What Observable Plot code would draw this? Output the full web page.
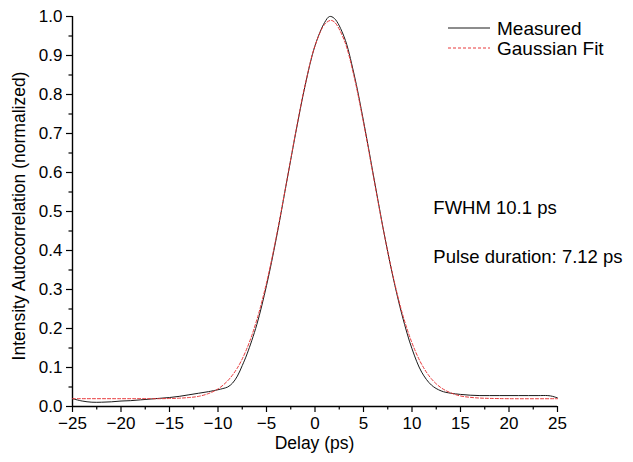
<!DOCTYPE html>
<html>
<head>
<meta charset="utf-8">
<script src="https://cdn.jsdelivr.net/npm/d3@7"></script>
<script src="https://cdn.jsdelivr.net/npm/@observablehq/plot@0.6"></script>
<style>
  html, body { margin: 0; padding: 0; background: #fff; }
  #chart svg { display: block; }
</style>
</head>
<body>
<div id="chart"></div>
<script>
// Delay (ps) and normalized intensity autocorrelation
const measuredX = [-25,-24,-23,-22,-21,-20,-19,-18,-17,-16,-15,-14,-13,-12,-11,-10,-9.5,-9,-8.5,-8,-7.5,-7,-6,-5,-4,-3,-2,-1,0,1,1.5,2,3,4,5,6,7,8,9,10,11,12,13,14,15,16,17,18,19,20,21,22,23,24,24.5,25];
const measuredY = [0.020,0.014,0.011,0.011,0.012,0.014,0.015,0.017,0.019,0.021,0.023,0.026,0.030,0.034,0.038,0.043,0.046,0.050,0.060,0.078,0.105,0.135,0.210,0.310,0.430,0.565,0.700,0.825,0.925,0.985,1.000,0.995,0.948,0.855,0.732,0.596,0.460,0.337,0.232,0.148,0.088,0.055,0.040,0.034,0.031,0.029,0.028,0.028,0.028,0.028,0.028,0.028,0.028,0.028,0.026,0.022];

const fitX = [-25,-20,-17,-16,-15,-14,-13,-12,-11,-10,-9,-8,-7,-6,-5,-4,-3,-2,-1,0,1,1.6,2,3,4,5,6,7,8,9,10,11,12,13,14,15,16,17,18,20,25];
const fitY = [0.020,0.020,0.020,0.020,0.0205,0.0213,0.023,0.026,0.033,0.045,0.066,0.099,0.150,0.222,0.317,0.434,0.566,0.702,0.827,0.925,0.980,0.990,0.986,0.940,0.849,0.728,0.593,0.459,0.339,0.239,0.163,0.108,0.071,0.048,0.035,0.027,0.0235,0.0216,0.0208,0.020,0.020];

const xMajor = [-25,-20,-15,-10,-5,0,5,10,15,20,25];
const xMinor = [-22.5,-17.5,-12.5,-7.5,-2.5,2.5,7.5,12.5,17.5,22.5];
const yMajor = [0,0.1,0.2,0.3,0.4,0.5,0.6,0.7,0.8,0.9,1.0];
const yMinor = [0.05,0.15,0.25,0.35,0.45,0.55,0.65,0.75,0.85,0.95];

const seriesNames = ["Measured", "Gaussian Fit"];
const annotations = [
  {x: 12.2, y: 0.508, text: "FWHM 10.1 ps"},
  {x: 12.2, y: 0.382, text: "Pulse duration: 7.12 ps"}
];

const measured = measuredX.map((x, i) => ({x, y: measuredY[i]}));
const fit = fitX.map((x, i) => ({x, y: fitY[i]}));

const FONT = "'Liberation Sans', Arial, Helvetica, sans-serif";
const RED = "#e8383a";

const chart = Plot.plot({
  width: 633,
  height: 462,
  marginLeft: 72,
  marginRight: 76,
  marginTop: 16,
  marginBottom: 56,
  style: {fontFamily: FONT, fontSize: "17px", background: "#fff", color: "#000"},
  x: {domain: [-25, 25]},
  y: {domain: [0, 1.0]},
  marks: [
    Plot.axisX({ticks: xMajor, tickSize: 6, tickPadding: 4, label: null, stroke: "#000", strokeWidth: 1.2}),
    Plot.axisX({ticks: xMinor, tickSize: 3.5, text: null, label: null, stroke: "#000", strokeWidth: 1.2}),
    Plot.axisY({ticks: yMajor, tickSize: 6, tickPadding: 4, label: null, tickFormat: d3.format(".1f"), stroke: "#000", strokeWidth: 1.2}),
    Plot.axisY({ticks: yMinor, tickSize: 3.5, text: null, label: null, stroke: "#000", strokeWidth: 1.2}),
    Plot.ruleX([-25], {stroke: "#000", strokeWidth: 1.4}),
    Plot.ruleY([0], {stroke: "#000", strokeWidth: 1.4}),
    Plot.line(measured, {x: "x", y: "y", stroke: "#1a1a1a", strokeWidth: 1, curve: "catmull-rom"}),
    Plot.line(fit, {x: "x", y: "y", stroke: RED, strokeWidth: 1, strokeDasharray: "3,2", curve: "catmull-rom"}),
    Plot.text(annotations, {x: "x", y: "y", text: "text", textAnchor: "start", fontSize: 18.5, fill: "#000"})
  ]
});

const svg = d3.select(chart);
// axis titles
svg.append("text")
  .attr("x", 314.5).attr("y", 449)
  .attr("text-anchor", "middle")
  .attr("font-size", 17.5).attr("font-family", FONT).attr("fill", "#000")
  .text("Delay (ps)");
svg.append("text")
  .attr("transform", "translate(25,216) rotate(-90)")
  .attr("text-anchor", "middle")
  .attr("font-size", 17.5).attr("font-family", FONT).attr("fill", "#000")
  .text("Intensity Autocorrelation (normalized)");

// legend
const legend = svg.append("g").attr("font-family", FONT).attr("font-size", 19).attr("text-anchor", "start");
const styles = [
  {stroke: "#1a1a1a", dash: null},
  {stroke: RED, dash: "3,2"}
];
seriesNames.forEach((name, i) => {
  const yy = 28 + i * 20;
  legend.append("line")
    .attr("x1", 448).attr("x2", 490).attr("y1", yy).attr("y2", yy)
    .attr("stroke", styles[i].stroke).attr("stroke-width", 1)
    .attr("stroke-dasharray", styles[i].dash);
  legend.append("text")
    .attr("x", 497).attr("y", yy).attr("dy", "0.35em")
    .attr("text-anchor", "start")
    .attr("fill", "#000").text(name);
});

document.getElementById("chart").appendChild(chart);
</script>
</body>
</html>
